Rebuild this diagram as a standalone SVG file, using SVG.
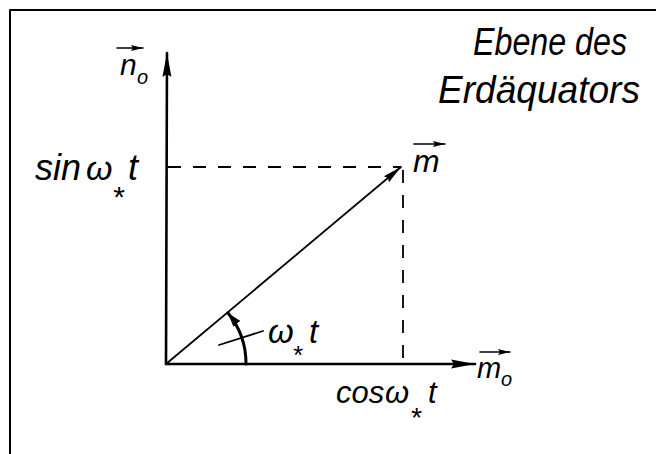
<svg xmlns="http://www.w3.org/2000/svg" width="656" height="454" viewBox="0 0 656 454">
<style>
.ln{stroke:#000;fill:none;stroke-linecap:round}
.ax{stroke-width:2.6}
.dash{stroke-width:1.8;stroke-dasharray:13 12;stroke-linecap:butt}
.t{font-family:"Liberation Sans","DejaVu Sans",sans-serif;font-style:italic;fill:#000}
</style>
<defs>
<marker id="ah" markerUnits="userSpaceOnUse" markerWidth="26" markerHeight="14" refX="24" refY="6" orient="auto">
<path d="M0,1.5 L24,6 L0,10.5 L3,6 Z" fill="#000"/>
</marker>
<marker id="ahm" markerUnits="userSpaceOnUse" markerWidth="22" markerHeight="12" refX="19" refY="5" orient="auto">
<path d="M0,1 L19,5 L0,9 L2,5 Z" fill="#000"/>
</marker>
<marker id="ahs" markerUnits="userSpaceOnUse" markerWidth="16" markerHeight="12" refX="14" refY="5" orient="auto">
<path d="M0,0.5 L14,5 L0,9.5 Z" fill="#000"/>
</marker>
<marker id="av" markerUnits="userSpaceOnUse" markerWidth="14" markerHeight="10" refX="12" refY="4" orient="auto">
<path d="M0,1 L12,4 L0,7 L2,4 Z" fill="#000"/>
</marker>
</defs>

<g id="frame">
<path class="ln" d="M10,10 H656 M10,10 V454" stroke-width="2"/>
</g>

<g id="connectors">
<line id="axis-n0" class="ln ax" x1="166" y1="364" x2="167" y2="53" marker-end="url(#ah)"/>
<line id="axis-m0" class="ln ax" x1="166" y1="364" x2="475" y2="364" marker-end="url(#ah)"/>
<line id="dash-h" class="ln dash" x1="168" y1="167" x2="401" y2="167"/>
<line id="dash-v" class="ln dash" x1="403" y1="170" x2="403" y2="362"/>
<line id="vec-m" class="ln" stroke-width="1.8" x1="166" y1="364" x2="401" y2="167" marker-end="url(#ahm)"/>
<path id="angle-arc" class="ln" stroke-width="3" d="M246,364 A80,80 0 0 0 228,313" marker-end="url(#ahs)"/>
<line id="angle-tick" class="ln" stroke-width="1.8" x1="219" y1="345" x2="263" y2="331"/>
</g>

<g id="label-n0">
<line class="ln" stroke-width="1.6" x1="117" y1="48" x2="143" y2="48" marker-end="url(#av)"/>
<text class="t" font-size="30"><tspan x="120" y="75">n</tspan><tspan x="137" y="84" font-size="20">o</tspan></text>
</g>

<g id="label-m">
<line class="ln" stroke-width="1.6" x1="414" y1="144" x2="445" y2="144" marker-end="url(#av)"/>
<text class="t" x="413" y="172" font-size="32">m</text>
</g>

<g id="label-m0">
<line class="ln" stroke-width="1.6" x1="480" y1="352" x2="510" y2="352" marker-end="url(#av)"/>
<text class="t" font-size="29"><tspan x="477" y="378">m</tspan><tspan x="501" y="386" font-size="20">o</tspan></text>
</g>

<g id="label-ebene">
<text class="t" x="473" y="55" font-size="38" textLength="154" lengthAdjust="spacingAndGlyphs">Ebene des</text>
<text class="t" x="438" y="103" font-size="38" textLength="202" lengthAdjust="spacingAndGlyphs">Erdäquators</text>
</g>

<g id="label-sin">
<text class="t" font-size="36"><tspan x="35" y="180">sin</tspan><tspan x="86" y="180" font-size="34">ω</tspan><tspan x="112" y="207" font-size="30">*</tspan><tspan x="128" y="180">t</tspan></text>
</g>

<g id="label-angle">
<text class="t" font-size="33"><tspan x="268" y="343">ω</tspan><tspan x="292" y="364" font-size="26">*</tspan><tspan x="309" y="343">t</tspan></text>
</g>

<g id="label-cos">
<text class="t" font-size="31"><tspan x="336" y="403">cos</tspan><tspan x="385" y="403">ω</tspan><tspan x="410" y="427" font-size="28">*</tspan><tspan x="428" y="403">t</tspan></text>
</g>
</svg>
